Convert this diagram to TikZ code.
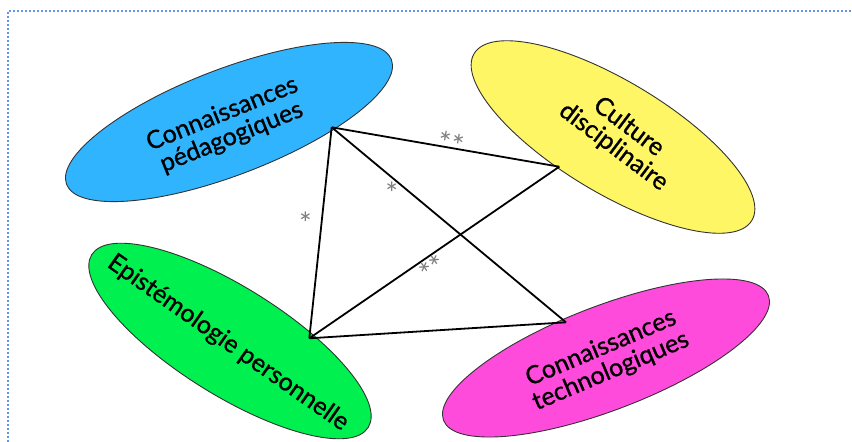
\documentclass[tikz,border=0pt]{standalone}
\usepackage{fontspec}
\setmainfont{Lato}
\newfontfamily\labelfont[FakeBold=0.9]{Lato}
\usetikzlibrary{shapes.geometric}
\definecolor{cblue}{RGB}{48,180,254}
\definecolor{cyellow}{RGB}{254,246,100}
\definecolor{cgreen}{RGB}{0,240,80}
\definecolor{cmagenta}{RGB}{255,75,220}
\definecolor{frame}{RGB}{100,149,237}
\definecolor{stargray}{RGB}{125,125,125}
\tikzset{
  blob/.style={ellipse, draw=black!80, line width=0.9pt, inner sep=0pt},
  lbl/.style={align=center, font=\labelfont\fontsize{25}{25}\selectfont, text=black},
  edge/.style={draw=black, line width=1.8pt, line join=round},
  mark star/.style={text=stargray, font=\fontsize{30}{30}\selectfont, inner sep=0pt}
}
\begin{document}
\begin{tikzpicture}[x=1pt,y=-1pt]
\useasboundingbox (0,0) rectangle (852,442);
\draw[frame, line width=1.6pt, dash pattern=on 1.6pt off 2.4pt] (8,442) -- (8,11) -- (852,11);

\node[blob, fill=cblue, minimum width=348pt, minimum height=106pt, rotate=21] (eP) at (229,122) {};
\node[blob, fill=cyellow, minimum width=324pt, minimum height=112pt, rotate=-31] (eC) at (613,137) {};
\node[blob, fill=cgreen, minimum width=326pt, minimum height=108pt, rotate=-32] (eE) at (230,341) {};
\node[blob, fill=cmagenta, minimum width=348pt, minimum height=104pt, rotate=21] (eT) at (606,358) {};

\node[lbl, rotate=22] (tP) at ([shift={(-2pt,-4pt)}]eP.center) {Connaissances\\pédagogiques};
\node[lbl, rotate=-37] (tC) at ([shift={(8pt,0pt)}]eC.center) {Culture\\disciplinaire};
\node[lbl, rotate=-35] (tE) at ([shift={(-2pt,-2pt)}]eE.center) {Epistémologie personnelle};
\node[lbl, rotate=23] (tT) at ([shift={(0pt,-2pt)}]eT.center) {Connaissances\\technologiques};

\coordinate (P) at (331.7,127.3);
\coordinate (C) at (559.3,166.7);
\coordinate (E) at (309.3,338.3);
\coordinate (T) at (566,322.3);

\draw[edge] (P) -- (C);
\draw[edge] (P) -- (E);
\draw[edge] (P) -- (T);
\draw[edge] (C) -- (E);
\draw[edge] (E) -- (T);

\node[mark star, rotate=-10] (s1) at (451,144) {**};
\node[mark star] (s2) at (305.5,223) {*};
\node[mark star] (s3) at (391.7,193) {*};
\node[mark star, rotate=35] (s4) at (433,269) {**};
\end{tikzpicture}
\end{document}
